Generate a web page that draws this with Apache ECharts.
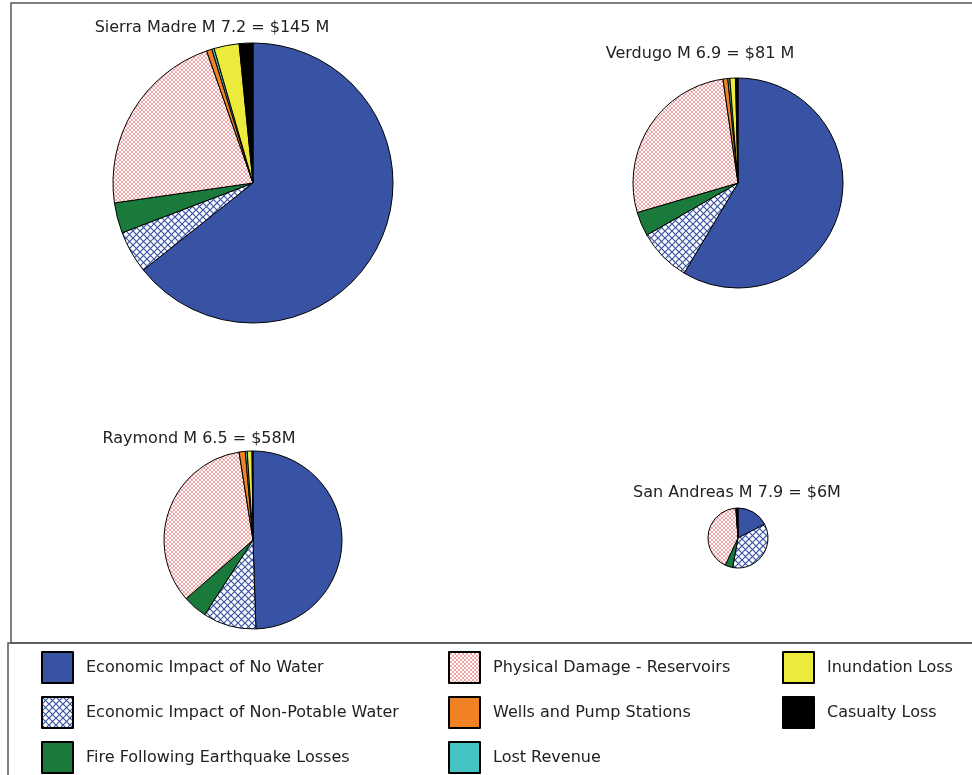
<!DOCTYPE html>
<html lang="en">
<head>
  <meta charset="UTF-8">
  <title>Earthquake loss pies</title>
  <script src="https://cdn.jsdelivr.net/npm/echarts@6/dist/echarts.min.js"></script>
  <style>
    html, body { margin: 0; padding: 0; background: #fff; }
  </style>
</head>
<body>
<div id="main" style="width: 972px;height:775px;"></div>
<script type="text/javascript">
  // loss categories (same order in every pie, clockwise from 12 o'clock)
  var categories = [
    'Economic Impact of No Water',
    'Economic Impact of Non-Potable Water',
    'Fire Following Earthquake Losses',
    'Physical Damage - Reservoirs',
    'Wells and Pump Stations',
    'Lost Revenue',
    'Inundation Loss',
    'Casualty Loss'
  ];

  // losses in $M
  var sierraMadre = [93.4, 7.1, 5.1, 31.8, 0.9, 0.4, 4.2, 2.3];
  var verdugo     = [47.3, 6.6, 3.0, 22.0, 0.6, 0.25, 0.7, 0.3];
  var raymond     = [28.7, 5.6, 2.55, 19.7, 0.65, 0.2, 0.5, 0.1];
  var sanAndreas  = [1.04, 2.12, 0.25, 2.5, 0.02, 0.01, 0.01, 0.03];

  var titles = [
    'Sierra Madre M 7.2 = $145 M',
    'Verdugo M 6.9 = $81 M',
    'Raymond M 6.5 = $58M',
    'San Andreas M 7.9 = $6M'
  ];

  var font = 'DejaVu Sans, Liberation Sans, Arial, sans-serif';

  // little tiles for the hatched slices
  function hatch(size, color, width) {
    var c = document.createElement('canvas');
    c.width = size; c.height = size;
    var ctx = c.getContext('2d');
    ctx.fillStyle = '#fff';
    ctx.fillRect(0, 0, size, size);
    ctx.strokeStyle = color;
    ctx.lineWidth = width;
    ctx.beginPath();
    ctx.moveTo(0, 0); ctx.lineTo(size, size);
    ctx.moveTo(size, 0); ctx.lineTo(0, size);
    ctx.stroke();
    return { image: c, repeat: 'repeat' };
  }

  var colors = [
    '#3953a4',
    hatch(7, '#3953a4', 1.2),
    '#1a7a3c',
    hatch(4, '#f09a9a', 0.9),
    '#f08224',
    '#45c3c3',
    '#ecea3a',
    '#000000'
  ];

  function toData(vals) {
    return vals.map(function (v, i) {
      return { name: categories[i], value: v, itemStyle: { color: colors[i] } };
    });
  }

  function pie(vals, cx, cy, r) {
    return {
      type: 'pie',
      center: [cx, cy],
      radius: [0, r],
      startAngle: 90,
      clockwise: true,
      silent: true,
      label: { show: false },
      labelLine: { show: false },
      itemStyle: { borderColor: '#000', borderWidth: 1 },
      data: toData(vals)
    };
  }

  function legendCol(names, left) {
    return {
      data: names,
      left: left,
      top: 651,
      height: 130,
      padding: 0,
      orient: 'vertical',
      icon: 'rect',
      itemWidth: 31,
      itemHeight: 31,
      itemGap: 12,
      selectedMode: false,
      textStyle: { fontFamily: font, fontSize: 16, lineHeight: 31, color: '#222', padding: [0, 0, 0, 8] }
    };
  }

  function titleAt(text, x, y) {
    return {
      text: text,
      left: x,
      top: y,
      padding: 0,
      textAlign: 'center',
      textStyle: { fontFamily: font, fontSize: 16, fontWeight: 'normal', color: '#222' }
    };
  }

  var myChart = echarts.init(document.getElementById('main'));

  var option = {
    animation: false,
    title: [
      titleAt(titles[0], 212, 20),
      titleAt(titles[1], 700, 46),
      titleAt(titles[2], 199, 431),
      titleAt(titles[3], 737, 485)
    ],
    legend: [
      legendCol(categories.slice(0, 3), 41),
      legendCol(categories.slice(3, 6), 448),
      legendCol(categories.slice(6, 8), 782)
    ],
    graphic: [
      { type: 'rect', z: -1, shape: { x: 11, y: 3, width: 990, height: 640 },
        style: { fill: 'none', stroke: '#555', lineWidth: 1.5 } },
      { type: 'rect', z: -1, shape: { x: 8, y: 643, width: 990, height: 150 },
        style: { fill: 'none', stroke: '#555', lineWidth: 1.5 } }
    ],
    series: [
      pie(sierraMadre, 253, 183, 140),
      pie(verdugo, 738, 183, 105),
      pie(raymond, 253, 540, 89),
      pie(sanAndreas, 738, 538, 30)
    ]
  };

  myChart.setOption(option);
</script>
</body>
</html>
